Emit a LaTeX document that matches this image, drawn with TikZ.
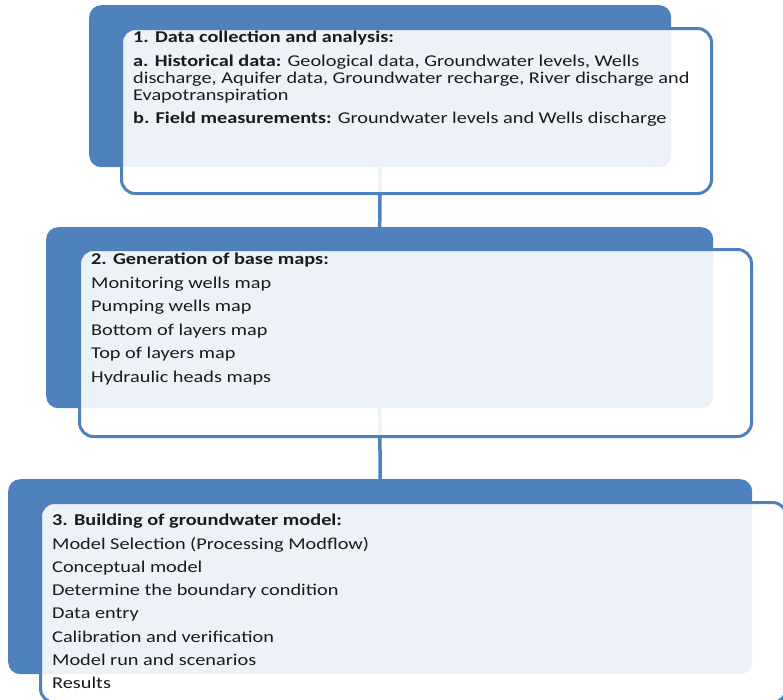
\documentclass[tikz,border=0pt]{standalone}
\usepackage{fontspec}
\setmainfont{Carlito}[FakeStretch=1.23]
\usetikzlibrary{positioning, calc}
\definecolor{SmartBlue}{HTML}{4F81BD}
\definecolor{InkBlack}{HTML}{1A1A1A}

\tikzset{
  backbox/.style={fill=SmartBlue, rounded corners=12pt, inner sep=0pt, anchor=north west},
  framebox/.style={draw=SmartBlue, line width=3pt, fill=white, fill opacity=0.9,
                   rounded corners=14pt, inner sep=0pt, anchor=north west},
  stagetext/.style={align=left, inner sep=0pt, anchor=north west, text=InkBlack,
                    font=\fontsize{16.5}{17}\selectfont},
  link/.style={draw=SmartBlue, line width=3.5pt}
}

\begin{document}
\begin{tikzpicture}[x=1pt, y=-1pt]
  \useasboundingbox (0,0) rectangle (783,699);

  % blue backs
  \node[backbox, minimum width=582pt, minimum height=162pt] (back1) at (89,5) {};
  \node[backbox, minimum width=667pt, minimum height=181pt] (back2) at (46,227) {};
  \node[backbox, minimum width=744pt, minimum height=195pt] (back3) at (8,479) {};

  % links between the stages
  \draw[link] (back1.south) -- (back2.north);
  \draw[link] (back2.south) -- (back3.north);

  % white frames
  \node[framebox, minimum width=590pt, minimum height=165pt] (frame1) at (120,27) {};
  \node[framebox, minimum width=672pt, minimum height=187pt] (frame2) at (78,248) {};
  \node[framebox, minimum width=746pt, minimum height=200pt] (frame3) at (39,501) {};

  \node[stagetext] (text1) at (133,31) {
    \textbf{1. Data collection and analysis:}\\[6.5pt]
    \textbf{a. Historical data:} Geological data, Groundwater levels, Wells\\
    discharge, Aquifer data, Groundwater recharge, River discharge and\\
    Evapotranspiration\\[6.5pt]
    \textbf{b. Field measurements:} Groundwater levels and Wells discharge};

  \node[stagetext] (text2) at (91,253) {
    \textbf{2. Generation of base maps:}\\[6.5pt]
    Monitoring wells map\\[6.5pt]
    Pumping wells map\\[6.5pt]
    Bottom of layers map\\[6.5pt]
    Top of layers map\\[6.5pt]
    Hydraulic heads maps};

  \node[stagetext] (text3) at (52,514) {
    \textbf{3. Building of groundwater model:}\\[6.3pt]
    Model Selection (Processing Modflow)\\[6.3pt]
    Conceptual model\\[6.3pt]
    Determine the boundary condition\\[6.3pt]
    Data entry\\[6.3pt]
    Calibration and verification\\[6.3pt]
    Model run and scenarios\\[6.3pt]
    Results};
\end{tikzpicture}
\end{document}
